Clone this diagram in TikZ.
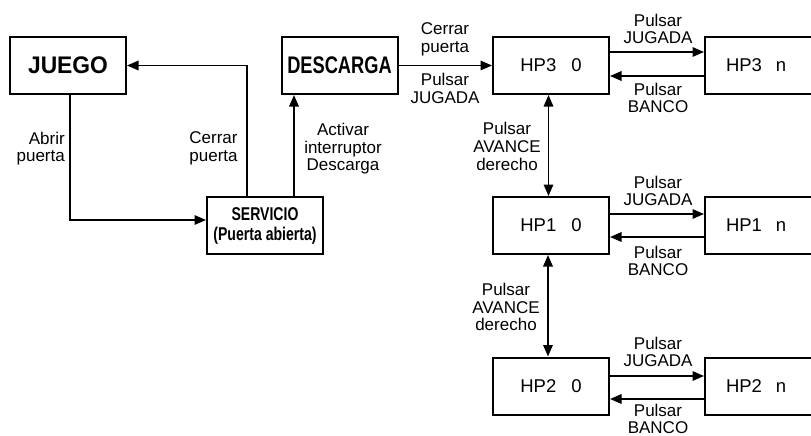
\documentclass[tikz,border=0pt]{standalone}
\usepackage{fontspec}
\setmainfont{Liberation Sans}
\newfontfamily\condA[FakeStretch=0.76]{Liberation Sans}
\newfontfamily\condB[FakeStretch=0.95]{Liberation Sans}
\usetikzlibrary{arrows.meta}
\begin{document}
\begin{tikzpicture}[x=1pt,y=-1pt,
  box/.style={draw, line width=2pt, minimum width=116pt, minimum height=57pt, inner sep=0pt},
  arr/.style={line width=1.6pt, -{Triangle[length=11.5pt,width=9.5pt]}},
  dbl/.style={line width=1.6pt, {Triangle[length=11.5pt,width=9.5pt]}-{Triangle[length=11.5pt,width=9.5pt]}},
  lbl/.style={inner sep=0pt, align=center, font=\fontsize{17pt}{17.6pt}\selectfont},
  hp/.style={box, font=\fontsize{18.5pt}{22pt}\selectfont},
  hpn/.style={hp, anchor=west, text width=100pt, align=left, inner xsep=21pt}]
\useasboundingbox (0,0) rectangle (811,436);
\clip (0,0) rectangle (811,436);
% boxes
\node[box, font=\condB\bfseries\fontsize{24pt}{28pt}\selectfont] (juego) at (68,65.5) {JUEGO};
\node[box, font=\condA\bfseries\fontsize{24pt}{28pt}\selectfont] (descarga) at (339.5,65.5) {DESCARGA};
\node[box, align=center, font=\condA\bfseries\fontsize{18.5pt}{20pt}\selectfont] (servicio) at (265,225.5) {SERVICIO\\(Puerta abierta)};
\node[hp] (hp30) at (551,65.5) {HP3\hspace{15pt}0};
\node[hp] (hp10) at (551,225.5) {HP1\hspace{15pt}0};
\node[hp] (hp20) at (551,386) {HP2\hspace{15pt}0};
\node[hpn] (hp3n) at (704,65.5) {HP3\hspace{14pt}n};
\node[hpn] (hp1n) at (704,225.5) {HP1\hspace{14pt}n};
\node[hpn] (hp2n) at (704,386) {HP2\hspace{14pt}n};
% connectors
\draw[arr] ([xshift=2pt]juego.south) |- ([yshift=5.5pt]servicio.west);
\draw[arr] ([xshift=-18pt]servicio.north) |- (juego.east);
\draw[arr] ([xshift=29pt]servicio.north) -- ([xshift=29pt]servicio.north |- descarga.south);
\draw[arr] (descarga.east) -- (hp30.west);
\draw[arr] ([yshift=13.5pt]hp30.east) -- ([yshift=13.5pt]hp30.east -| hp3n.west);
\draw[arr] ([yshift=-10.5pt]hp3n.west) -- ([yshift=-10.5pt]hp3n.west -| hp30.east);
\draw[arr] ([yshift=11.5pt]hp10.east) -- ([yshift=11.5pt]hp10.east -| hp1n.west);
\draw[arr] ([yshift=-11.5pt]hp1n.west) -- ([yshift=-11.5pt]hp1n.west -| hp10.east);
\draw[arr] ([yshift=10pt]hp20.east) -- ([yshift=10pt]hp20.east -| hp2n.west);
\draw[arr] ([yshift=-13pt]hp2n.west) -- ([yshift=-13pt]hp2n.west -| hp20.east);
\draw[dbl] ([xshift=-2.5pt]hp30.south) -- ([xshift=-2.5pt]hp10.north);
\draw[dbl] ([xshift=-3pt]hp10.south) -- ([xshift=-3pt]hp20.north);
% labels
\node[lbl, anchor=east, align=right] (l1) at (65,148.5) {Abrir\\puerta};
\node[lbl] (l2) at (213.5,148.5) {Cerrar\\puerta};
\node[lbl] (l3) at (343,149) {Activar\\interruptor\\Descarga};
\node[lbl] (l4) at (445,39.5) {Cerrar\\puerta};
\node[lbl] (l5) at (445,88.3) {Pulsar\\JUGADA};
\node[lbl] (l6) at (658,28.8) {Pulsar\\JUGADA};
\node[lbl] (l7) at (658,98) {Pulsar\\BANCO};
\node[lbl] (l8) at (507,146.5) {Pulsar\\AVANCE\\derecho};
\node[lbl] (l9) at (658,191) {Pulsar\\JUGADA};
\node[lbl] (l10) at (658,261) {Pulsar\\BANCO};
\node[lbl] (l11) at (506,307) {Pulsar\\AVANCE\\derecho};
\node[lbl] (l12) at (658,352) {Pulsar\\JUGADA};
\node[lbl] (l13) at (658,419) {Pulsar\\BANCO};
\end{tikzpicture}
\end{document}
